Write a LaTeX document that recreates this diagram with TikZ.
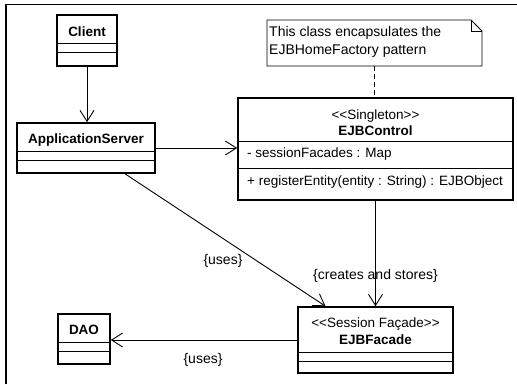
\documentclass[tikz,border=0pt]{standalone}
\usepackage{fontspec}
\newfontfamily\umlfont{Liberation Sans}
\usetikzlibrary{arrows.meta}
\tikzset{
  classbox/.style={draw, line width=1.6pt, inner sep=0pt},
  divider/.style={line width=0.9pt},
  conn/.style={line width=0.9pt, -{Straight Barb[length=11pt,width=14pt]}},
  cname/.style={font=\umlfont\fontsize{13.5}{16}\selectfont\bfseries, inner sep=0pt, anchor=base},
  ctext/.style={font=\umlfont\fontsize{13.5}{16}\selectfont, inner sep=0pt, anchor=base},
  mtext/.style={font=\umlfont\fontsize{13.5}{16}\selectfont, inner sep=0pt, anchor=base west},
  lbl/.style={font=\umlfont\fontsize{14}{17}\selectfont, inner sep=0pt, anchor=base},
  notebox/.style={inner sep=0pt},
}
\begin{document}
\begin{tikzpicture}[x=1pt,y=-1pt]
\useasboundingbox (0,0) rectangle (517,384);
% frame
\draw[line width=1.5pt] (6,384) -- (6,4.5) -- (517,4.5);

% Client
\node[classbox, minimum width=60pt, minimum height=51pt] (client) at (87,40.5) {};
\draw[divider] (57,43) -- (117,43);
\draw[divider] (57,52) -- (117,52);
\node[cname] (clientname) at (87,36) {Client};

% ApplicationServer
\node[classbox, minimum width=138pt, minimum height=50pt] (app) at (86,148) {};
\draw[divider] (17,151) -- (155,151);
\draw[divider] (17,160) -- (155,160);
\node[cname] (appname) at (86,143) {ApplicationServer};

% EJBControl
\node[classbox, minimum width=275pt, minimum height=102pt] (control) at (375.5,149) {};
\draw[divider] (238,141) -- (513,141);
\draw[divider] (238,168) -- (513,168);
\node[ctext] (controlst) at (375.5,119) {<<Singleton>>};
\node[cname] (controlname) at (375.5,135) {EJBControl};
\node[mtext] (controlattr) at (247,157) {- sessionFacades : Map};
\node[mtext] (controlop) at (247,185) {+ registerEntity(entity : String) : EJBObject};

% EJBFacade
\node[classbox, minimum width=155pt, minimum height=66pt] (facade) at (375.5,340) {};
\draw[divider] (298,352) -- (453,352);
\draw[divider] (298,361) -- (453,361);
\node[ctext] (facadest) at (375.5,327) {<<Session Façade>>};
\node[cname] (facadename) at (375.5,344) {EJBFacade};

% DAO
\node[classbox, minimum width=52pt, minimum height=50pt] (dao) at (84,339) {};
\draw[divider] (58,342) -- (110,342);
\draw[divider] (58,351) -- (110,351);
\node[cname] (daoname) at (84,334) {DAO};

% Note
\node[notebox, minimum width=215pt, minimum height=46pt] (note) at (374.5,43) {};
\draw[line width=0.9pt] (267,20) -- (471,20) -- (482,31) -- (482,66) -- (267,66) -- cycle;
\draw[line width=0.9pt] (471,20) -- (471,31) -- (482,31);
\node[font=\umlfont\fontsize{14}{18}\selectfont, inner sep=0pt, anchor=north west, align=left] (notetext) at (269,25.8) {This class encapsulates the\\EJBHomeFactory pattern};

% connectors
\draw[line width=1pt, dash pattern=on 5pt off 3pt] (note.south) -- (note.south |- control.north);
\draw[conn] (client.south) -- (client.south |- app.north);
\draw[conn] (app.east) -- (app.east -| control.west);
\draw[conn] (control.south) -- (facade.north);
\draw[conn] ([xshift=39pt]app.south) -- ([xshift=-50pt]facade.north);
\draw[conn] (facade.west) -- (facade.west -| dao.east);

% labels
\node[lbl] (l1) at (223,264) {\{uses\}};
\node[lbl] (l2) at (375.5,279) {\{creates and stores\}};
\node[lbl] (l3) at (203,363) {\{uses\}};
\end{tikzpicture}
\end{document}
